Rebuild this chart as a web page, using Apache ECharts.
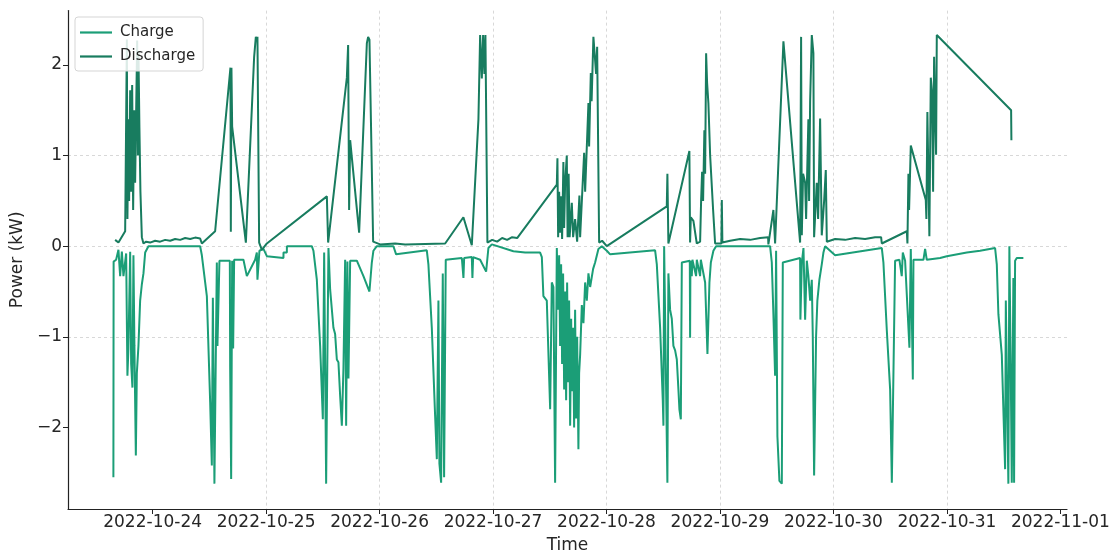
<!DOCTYPE html>
<html>
<head>
<meta charset="utf-8">
<script src="https://cdn.jsdelivr.net/npm/echarts@6/dist/echarts.min.js"></script>
<style>
html,body{margin:0;padding:0;background:#fff;overflow:hidden;}
#chart{position:absolute;left:0;top:0;width:1119px;height:554px;}
</style>
</head>
<body>
<div id="chart"></div>
<script>
// Time values are hours after 2022-10-23 00:00
const baseDate = [2022, 9, 23];
const seriesNames = ['Charge', 'Discharge'];
const xTickLabels = ['2022-10-24','2022-10-25','2022-10-26','2022-10-27','2022-10-28','2022-10-29','2022-10-30','2022-10-31','2022-11-01'];
const yTickValues = [-2, -1, 0, 1, 2];
const axisRangeHours = [6.1, 217.4];

const chargeHours = [15.7,15.75,16.28,16.77,17.13,17.49,17.83,18.4,18.67,18.88,19.25,19.46,19.73,19.94,20.15,20.45,20.66,21.0,21.36,21.72,22.06,22.42,23.11,34.05,
34.41,35.47,36.17,36.52,36.74,37.07,37.58,37.71,38.13,40.33,40.4,40.61,40.82,41.03,41.24,43.21,43.93,45.68,46.04,46.17,46.59,47.44,48.16,48.5,51.67,51.68,52.39,52.4,57.67,
58.01,58.73,59.43,60.0,60.28,60.7,61.19,61.55,62.24,62.6,62.96,63.3,63.66,64.02,64.36,64.72,64.93,65.2,65.42,65.78,67.19,68.59,69.86,70.36,70.7,71.42,74.93,
75.5,81.99,82.33,83.05,83.75,84.11,84.45,84.66,85.02,85.37,85.65,86.0,89.4,89.74,89.89,91.51,91.64,91.79,93.27,94.54,95.02,95.75,100.31,102.79,105.96,
106.32,106.65,107.37,108.08,108.43,108.77,109.13,109.49,109.77,109.98,110.19,110.4,110.61,110.82,111.04,111.25,111.46,111.67,111.88,112.09,112.31,112.52,112.73,112.94,113.15,113.36,113.57,113.79,114.06,114.21,114.42,114.78,115.12,115.48,115.83,116.18,116.54,117.17,117.59,118.29,119.0,120.06,120.77,130.28,
130.64,131.34,131.9,132.04,132.19,132.61,132.88,133.09,133.45,133.81,134.15,134.51,134.87,135.21,135.42,135.72,135.93,136.2,137.62,137.68,137.75,138.04,138.17,138.95,139.1,139.8,139.95,140.86,141.35,141.77,142.07,142.61,143.18,154.6,
154.96,155.3,155.66,155.87,156.15,156.57,157.08,157.29,157.57,160.95,161.01,161.31,161.66,162.01,162.37,162.7,163.07,163.42,163.63,163.91,164.33,164.6,165.03,165.53,165.88,166.24,168.35,178.23,
178.57,179.29,179.99,180.35,180.68,181.04,181.4,181.95,182.45,182.67,183.16,184.07,184.36,184.79,184.92,187.03,187.39,187.74,190.56,191.98,196.21,199.02,202.19,
202.55,202.89,203.61,204.31,204.46,204.79,205.0,205.21,205.51,205.72,206.06,206.21,206.42,206.78,208.17];
const chargeKW = [-2.55,-0.17,-0.15,-0.04,-0.33,-0.06,-0.33,-0.08,-1.43,-1.13,-0.06,-1.3,-1.56,-0.1,-1.1,-2.31,-1.4,-1.1,-0.6,-0.42,-0.3,-0.07,0.0,0.0,
-0.1,-0.55,-1.72,-2.42,-0.57,-2.62,-0.18,-1.1,-0.16,-0.16,-1.34,-2.57,-0.16,-1.13,-0.15,-0.15,-0.33,-0.15,-0.07,-0.37,-0.05,-0.03,-0.11,-0.13,-0.13,-0.07,-0.07,0.0,0.0,
-0.05,-0.37,-1.1,-1.91,-0.07,-2.62,-0.02,-0.48,-0.9,-0.97,-1.25,-1.28,-1.65,-1.98,-1.35,-0.15,-1.98,-0.17,-1.46,-0.16,-0.16,-0.33,-0.5,-0.18,-0.05,0.0,0.0,
-0.09,-0.045,-0.2,-0.9,-1.87,-2.35,-0.6,-2.4,-2.61,-0.3,-2.55,-0.15,-0.13,-0.35,-0.13,-0.12,-0.35,-0.12,-0.15,-0.28,-0.02,0.02,-0.055,-0.07,-0.07,
-0.12,-0.55,-0.6,-1.8,-0.4,-0.45,-2.61,-0.02,-0.7,-0.1,-1.1,-0.2,-1.3,-0.3,-1.58,-0.5,-1.7,-0.4,-1.5,-0.6,-1.98,-0.8,-1.6,-0.9,-2.0,-0.7,-1.9,-1.0,-2.24,-1.4,-1.2,-0.65,-0.85,-0.4,-0.6,-0.3,-0.45,-0.25,-0.18,-0.03,0.0,-0.05,-0.09,-0.045,
-0.2,-0.9,-1.7,-1.98,0.0,0.0,-2.61,-0.3,-0.7,-0.8,-1.1,-1.15,-1.25,-1.58,-1.8,-1.91,-0.18,-0.16,-0.16,-1.01,-0.16,-0.33,-0.15,-0.33,-0.15,-0.33,-0.15,-0.4,-1.19,-0.4,-0.18,-0.05,0.0,0.0,
-0.18,-0.75,-1.43,-0.05,-2.1,-2.59,-2.62,-0.18,-0.16,-0.13,-0.81,-0.18,-0.02,-0.81,-0.16,-0.33,-0.6,-0.37,-0.99,-2.53,-0.99,-0.6,-0.37,-0.2,-0.07,0.0,-0.1,-0.02,
-0.18,-0.93,-1.58,-2.61,-2.62,-0.16,-0.18,-0.15,-0.33,-0.07,-0.16,-1.12,-0.03,-1.47,-0.15,-0.15,-0.03,-0.15,-0.13,-0.11,-0.07,-0.05,-0.02,
-0.2,-0.75,-1.2,-2.46,-0.6,-1.9,-2.62,0.0,-1.4,-2.61,-0.35,-2.61,-0.16,-0.13,-0.13];

const dischargeHours = [16.07,16.77,18.19,18.55,18.67,18.88,19.03,19.25,19.46,19.67,19.88,20.09,20.3,20.73,20.87,21.0,21.21,21.42,21.72,22.06,
22.63,23.47,24.53,25.59,26.65,27.71,28.76,29.82,30.88,31.94,32.99,34.05,34.41,37.22,40.46,40.54,40.67,40.82,43.72,45.47,45.83,46.1,46.17,46.53,47.1,48.16,
60.85,61.12,65.08,65.35,65.56,65.78,67.68,69.31,69.58,69.86,70.64,72.12,75.29,77.41,85.87,89.73,91.51,92.91,93.27,93.63,93.9,94.18,94.39,94.81,
95.81,96.87,97.92,98.98,100.04,101.1,109.49,109.62,109.77,109.98,110.19,110.4,110.61,110.88,111.04,111.25,111.6,111.77,111.99,112.2,112.66,112.94,113.36,113.79,114.27,114.42,114.78,
115.27,115.48,116.18,116.32,116.68,116.85,117.23,117.59,117.8,118.02,118.44,119.07,120.06,132.75,132.88,133.09,137.53,137.68,137.83,138.38,139.1,139.8,140.01,140.22,140.43,140.7,140.86,
141.07,141.28,141.55,141.92,142.55,142.97,144.3,144.39,144.51,146.15,148.26,150.38,152.49,154.18,154.24,155.3,155.66,157.42,160.95,161.16,161.31,161.58,162.01,162.22,162.7,162.85,
163.07,163.42,163.76,163.91,164.47,164.76,165.18,165.53,166.03,166.38,166.6,168.35,170.47,172.58,174.7,176.81,178.08,178.23,183.52,183.65,183.86,184.0,184.36,187.53,187.66,187.87,
188.08,188.29,188.59,188.87,189.08,189.29,189.5,189.71,189.86,205.58,205.64];
const dischargeKW = [0.07,0.04,0.165,2.28,0.3,1.4,0.5,1.72,0.6,1.78,0.4,1.5,0.7,2.27,1.0,2.15,1.3,0.6,0.1,0.03,
0.05,0.04,0.06,0.05,0.07,0.06,0.08,0.07,0.09,0.08,0.095,0.085,0.03,0.165,1.97,0.16,1.97,1.32,0.04,2.09,2.31,2.28,2.31,0.04,-0.04,0.03,
0.55,0.04,1.86,2.22,0.4,1.17,0.15,2.24,2.31,2.28,0.05,0.02,0.03,0.02,0.03,0.32,0.01,1.4,2.33,1.85,2.33,1.9,2.33,0.04,
0.07,0.05,0.09,0.07,0.1,0.09,0.68,0.97,0.1,0.6,0.15,0.55,0.08,0.93,0.2,0.7,1.0,0.1,0.8,0.1,0.48,0.1,0.3,0.05,0.56,0.1,0.08,
1.03,0.6,1.58,1.1,1.91,1.6,2.31,2.3,1.9,2.2,0.04,0.06,0.0,0.44,0.8,0.03,1.05,0.04,0.32,0.28,0.03,0.05,0.5,0.82,0.5,1.28,0.8,
2.13,1.8,1.58,1.0,0.4,0.03,0.03,0.51,0.04,0.06,0.08,0.07,0.09,0.1,0.02,0.4,0.03,2.26,0.04,2.31,0.12,0.8,0.7,0.3,1.4,0.5,
1.6,2.33,2.13,0.1,0.7,0.3,1.41,0.12,0.5,0.84,0.05,0.08,0.07,0.09,0.08,0.1,0.1,0.03,0.165,0.03,0.8,0.4,1.11,0.51,0.3,1.48,
0.8,0.11,1.86,1.69,0.6,2.09,1.5,1.01,2.33,1.5,1.17];

const baseMs = new Date(baseDate[0], baseDate[1], baseDate[2]).getTime();
const H = 3600000;
const toPairs = (hs, vs) => hs.map((h, i) => [baseMs + h * H, vs[i]]);
const xTickValues = xTickLabels.map(s => { const p = s.split('-').map(Number); return new Date(p[0], p[1]-1, p[2]).getTime(); });
const pad = n => (n < 10 ? '0' : '') + n;
const fmtDate = v => { const d = new Date(v); return d.getFullYear() + '-' + pad(d.getMonth()+1) + '-' + pad(d.getDate()); };
const fmtY = v => (v < 0 ? '\u2212' + Math.abs(v) : String(v));

const FONT = 'DejaVu Sans';
const TXT = '#262626';
const el = document.getElementById('chart');
const chart = echarts.init(el, null, {renderer: 'canvas', width: 1119, height: 554});
chart.setOption({
  animation: false,
  backgroundColor: '#ffffff',
  grid: {left: 68, right: 52, top: 10.6, bottom: 45, containLabel: false, outerBoundsMode: 'none'},
  legend: {
    orient: 'vertical', left: 75, top: 17,
    data: seriesNames,
    icon: 'rect', itemWidth: 32, itemHeight: 2.2, itemGap: 9,
    backgroundColor: 'rgba(255,255,255,0.85)', borderColor: '#d5d5d5', borderWidth: 1, borderRadius: 3,
    padding: [8, 8, 7, 5],
    textStyle: {fontFamily: FONT, fontSize: 15, color: TXT, padding: [0, 0, 0, 3]}
  },
  xAxis: {
    type: 'value',
    min: baseMs + axisRangeHours[0] * H,
    max: baseMs + axisRangeHours[1] * H,
    name: 'Time', nameLocation: 'middle', nameGap: 28,
    nameTextStyle: {fontFamily: FONT, fontSize: 17, color: TXT},
    axisLine: {show: true, onZero: false, lineStyle: {color: '#222', width: 1.2}},
    axisTick: {show: true, length: 5, lineStyle: {color: '#222', width: 1}, customValues: xTickValues},
    axisLabel: {show: true, customValues: xTickValues, formatter: v => fmtDate(v), fontFamily: FONT, fontSize: 17, color: TXT, margin: 5, hideOverlap: false},
    splitLine: {show: true, showMinLine: false, showMaxLine: false, lineStyle: {color: '#cfcfcf', type: [3, 3], width: 0.8}}
  },
  yAxis: {
    type: 'value', min: -2.9, max: 2.6,
    name: 'Power (kW)', nameLocation: 'middle', nameGap: 39, nameRotate: 90,
    nameTextStyle: {fontFamily: FONT, fontSize: 17, color: TXT},
    axisLine: {show: true, onZero: false, lineStyle: {color: '#222', width: 1.2}},
    axisTick: {show: true, length: 5, lineStyle: {color: '#222', width: 1}, customValues: yTickValues},
    axisLabel: {show: true, customValues: yTickValues, formatter: v => fmtY(v), fontFamily: FONT, fontSize: 17, color: TXT, margin: 6},
    splitLine: {show: true, showMinLine: false, showMaxLine: false, lineStyle: {color: '#cfcfcf', type: [3, 3], width: 0.8}}
  },
  series: [
    {name: seriesNames[0], type: 'line', data: toPairs(chargeHours, chargeKW), showSymbol: false, symbol: 'none',
     lineStyle: {color: '#1b9e77', width: 2}, itemStyle: {color: '#1b9e77'}, z: 2},
    {name: seriesNames[1], type: 'line', data: toPairs(dischargeHours, dischargeKW), showSymbol: false, symbol: 'none',
     lineStyle: {color: '#187c5f', width: 2}, itemStyle: {color: '#187c5f'}, z: 3}
  ]
});
</script>
</body>
</html>
